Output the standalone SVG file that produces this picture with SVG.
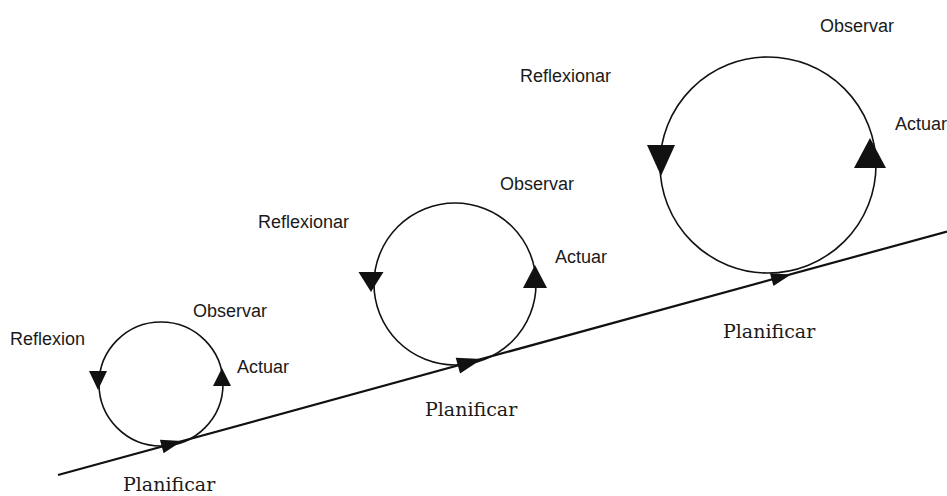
<svg xmlns="http://www.w3.org/2000/svg" width="947" height="496" viewBox="0 0 947 496">
  <style>
    .ring { fill: none; stroke: #111; stroke-width: 1.6; }
    .tri { fill: #111; stroke: none; }
    .axis { stroke: #111; stroke-width: 2.2; fill: none; }
    .lbl { font-family: "Liberation Sans", Arial, sans-serif; font-size: 18px; fill: #1a1a1a; }
    .plan { font-family: "DejaVu Serif", "Liberation Serif", serif; font-size: 19px; fill: #1a1a1a; }
  </style>
  <defs>
    <path id="head" d="M0,0 L-1,-0.33 L-1,0.33 Z"/>
  </defs>
  <rect width="947" height="496" fill="#ffffff"/>

  <g id="connectors">
    <line class="axis" x1="58" y1="475" x2="947" y2="231.5"/>
    <use href="#head" class="tri" transform="translate(182,441) rotate(-15.3) scale(21)"/>
    <use href="#head" class="tri" transform="translate(482,359) rotate(-15.3) scale(25)"/>
    <use href="#head" class="tri" transform="translate(791,274.4) rotate(-15.3) scale(20)"/>
  </g>

  <g id="cycle1">
    <circle class="ring" cx="161" cy="384" r="62"/>
    <polygon class="tri" points="89,371 107,371 98,390"/>
    <polygon class="tri" points="213,386 231,386 222,368"/>
    <text class="lbl" x="10" y="345">Reflexion</text>
    <text class="lbl" x="193" y="317">Observar</text>
    <text class="lbl" x="237" y="373">Actuar</text>
    <text class="plan" x="123" y="491">Planificar</text>
  </g>

  <g id="cycle2">
    <circle class="ring" cx="455" cy="284" r="81"/>
    <polygon class="tri" points="358.5,272 383.5,272 371,292"/>
    <polygon class="tri" points="523,288 547,288 535,265"/>
    <text class="lbl" x="258" y="228">Reflexionar</text>
    <text class="lbl" x="500" y="190">Observar</text>
    <text class="lbl" x="555" y="263">Actuar</text>
    <text class="plan" x="425" y="416">Planificar</text>
  </g>

  <g id="cycle3">
    <circle class="ring" cx="768" cy="165" r="108"/>
    <polygon class="tri" points="647,145 675,145 661,176"/>
    <polygon class="tri" points="854,168 886,168 870,138"/>
    <text class="lbl" x="520" y="82">Reflexionar</text>
    <text class="lbl" x="820" y="32">Observar</text>
    <text class="lbl" x="895" y="130">Actuar</text>
    <text class="plan" x="723" y="338">Planificar</text>
  </g>
</svg>
